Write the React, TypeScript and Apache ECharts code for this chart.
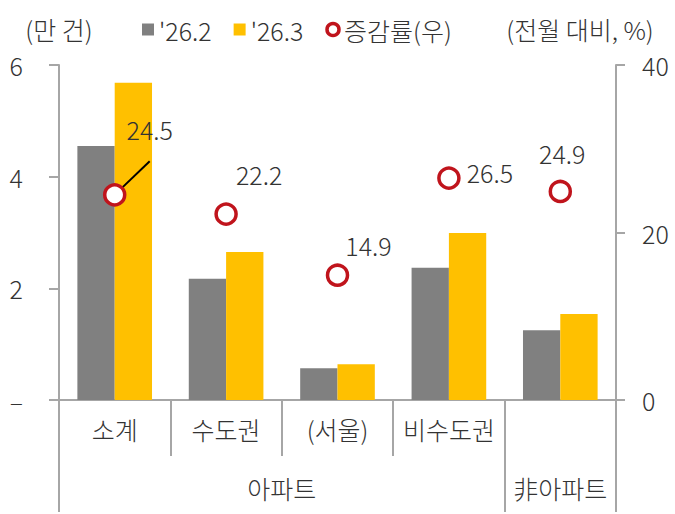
import React, { useEffect, useRef } from "react";
import * as echarts from "echarts";

const categories = ["소계", "수도권", "(서울)", "비수도권", ""];
const groups = [
  { name: "아파트", start: 0, end: 4 },
  { name: "非아파트", start: 4, end: 5 },
];
const feb = [4.55, 2.17, 0.57, 2.37, 1.25];
const mar = [5.68, 2.65, 0.64, 2.99, 1.54];
const rate = [24.5, 22.2, 14.9, 26.5, 24.9];
const labelOffsets: [number, number][] = [
  [35, -66],
  [33, -40],
  [31, -30],
  [41, -6],
  [2, -38],
];
const leftTicks = [0, 2, 4, 6];
const rightTicks = [0, 20, 40];

const FONT = '"Noto Sans CJK KR", "Noto Sans", sans-serif';
const FW = 300;
const FS = 25;
const TXT = "#333333";
const AXIS = "#a6a6a6";

export default function App() {
  const ref = useRef<HTMLDivElement>(null);
  useEffect(() => {
    if (!ref.current) return;
    const chart = echarts.init(ref.current, undefined, { renderer: "svg" });
    const groupCenters = groups.map((g) => (g.start + g.end) / 2);
    const groupBounds = Array.from(
      new Set(groups.flatMap((g) => [g.start, g.end]))
    );
    const txt = { fontSize: FS, color: TXT, fontFamily: FONT, fontWeight: FW };
    chart.setOption({
      animation: false,
      textStyle: { fontFamily: FONT },
      grid: { left: 59, right: 59, top: 65, bottom: 114, containLabel: false },
      legend: {
        left: 137,
        top: 12,
        itemWidth: 12,
        itemHeight: 12,
        itemGap: 22,
        textStyle: txt,
        data: [
          { name: "'26.2", icon: "rect" },
          { name: "'26.3", icon: "rect" },
          {
            name: "증감률(우)",
            icon: "circle",
            itemStyle: { color: "#fff", borderColor: "#C0141C", borderWidth: 3.5 },
          },
        ],
      },
      xAxis: [
        {
          type: "category",
          data: categories,
          position: "bottom",
          axisLine: { show: true, lineStyle: { color: AXIS, width: 2 } },
          axisTick: {
            show: true,
            interval: 0,
            length: 56,
            lineStyle: { color: AXIS, width: 2 },
          },
          axisLabel: { interval: 0, margin: 16, ...txt },
        },
        {
          type: "value",
          min: 0,
          max: categories.length,
          position: "bottom",
          axisLine: { show: false },
          splitLine: { show: false },
          axisTick: {
            show: true,
            customValues: groupBounds,
            length: 112,
            lineStyle: { color: AXIS, width: 2 },
          },
          axisLabel: {
            show: true,
            customValues: groupCenters,
            margin: 75,
            ...txt,
            formatter: (v: number) => {
              const g = groups.find((gg) => (gg.start + gg.end) / 2 === v);
              return g ? g.name : "";
            },
          },
        },
      ],
      yAxis: [
        {
          type: "value",
          min: 0,
          max: 6,
          interval: 2,
          name: "(만 건)",
          nameLocation: "end",
          nameGap: 24,
          nameTextStyle: txt,
          axisLine: { show: true, lineStyle: { color: AXIS, width: 2 } },
          axisTick: { show: true, length: 10, lineStyle: { color: AXIS, width: 2 } },
          splitLine: { show: false },
          axisLabel: {
            margin: 36,
            ...txt,
            customValues: leftTicks,
            formatter: (v: number) => (v === 0 ? "–" : String(v)),
          },
        },
        {
          type: "value",
          min: 0,
          max: 40,
          interval: 20,
          position: "right",
          name: "(전월 대비, %)",
          nameLocation: "end",
          nameGap: 24,
          nameTextStyle: { ...txt, padding: [0, 72, 0, 0] },
          axisLine: { show: true, lineStyle: { color: AXIS, width: 2 } },
          axisTick: { show: true, length: 9, lineStyle: { color: AXIS, width: 2 } },
          splitLine: { show: false },
          axisLabel: { margin: 26, ...txt, customValues: rightTicks },
        },
      ],
      series: [
        {
          name: "'26.2",
          type: "bar",
          xAxisIndex: 0,
          yAxisIndex: 0,
          data: feb,
          barGap: "0%",
          barCategoryGap: "33%",
          itemStyle: { color: "#808080" },
        },
        {
          name: "'26.3",
          type: "bar",
          xAxisIndex: 0,
          yAxisIndex: 0,
          data: mar,
          barGap: "0%",
          barCategoryGap: "33%",
          itemStyle: { color: "#FFC000" },
        },
        {
          name: "증감률(우)",
          type: "scatter",
          xAxisIndex: 0,
          yAxisIndex: 1,
          symbol: "circle",
          symbolSize: 20,
          z: 5,
          itemStyle: {
            color: "#ffffff",
            borderColor: "#C0141C",
            borderWidth: 3.5,
            opacity: 1,
          },
          label: {
            show: true,
            position: "inside",
            ...txt,
            formatter: (p: any) => Number(rate[p.dataIndex]).toFixed(1),
          },
          data: rate.map((v, i) =>
            i === 0
              ? {
                  value: v,
                  label: {
                    offset: labelOffsets[i],
                    padding: [40, 0, 0, 0],
                    backgroundColor: "rgba(255,255,255,0)",
                  },
                  labelLine: {
                    show: true,
                    lineStyle: { color: "#000000", width: 2 },
                  },
                }
              : { value: v, label: { offset: labelOffsets[i] } }
          ),
        },
      ],
    });
    return () => chart.dispose();
  }, []);
  return (
    <div
      ref={ref}
      style={{ position: "fixed", left: 0, top: 0, width: 675, height: 514, background: "#fff" }}
    />
  );
}
